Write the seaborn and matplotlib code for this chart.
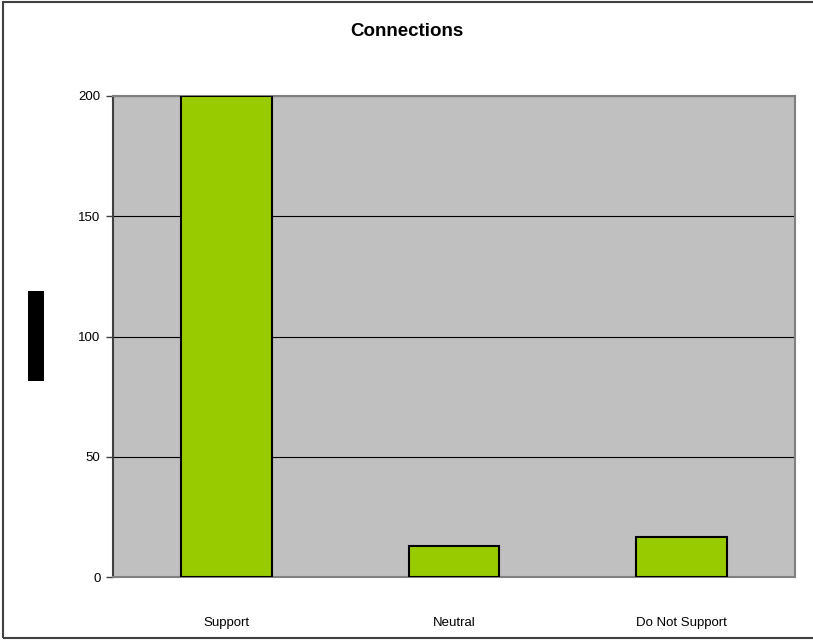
import matplotlib
matplotlib.use("Agg")
import matplotlib.pyplot as plt
import seaborn as sns
import pandas as pd
from matplotlib.patches import Rectangle

categories = ["Support", "Neutral", "Do Not Support"]
counts = [200, 13, 16.5]
y_ticks = [0, 50, 100, 150, 200]

sns.set_theme(style="white")
plt.rcParams["font.family"] = ["Liberation Sans", "DejaVu Sans"]
plt.rcParams["text.color"] = "black"
plt.rcParams["xtick.color"] = "black"
plt.rcParams["ytick.color"] = "black"

df = pd.DataFrame({"category": categories, "count": counts})

fig = plt.figure(figsize=(8.13, 6.4), dpi=100)
fig.patch.set_facecolor("white")
ax = fig.add_axes([113 / 813, 1 - 577 / 640, (795 - 113) / 813, (577 - 96) / 640])
ax.set_facecolor("#C0C0C0")

sns.barplot(data=df, x="category", y="count", ax=ax, color="#99CC00",
            width=0.4, edgecolor="black", linewidth=1.5, saturation=1, zorder=3)

ax.set_ylim(0, 200)
ax.set_yticks(y_ticks)
ax.set_yticklabels([str(t) for t in y_ticks], fontsize=9.5)
ax.yaxis.grid(True, color="black", linewidth=0.8, zorder=1)
ax.set_axisbelow(True)
ax.tick_params(axis="y", which="both", left=True, length=5, width=1,
               color="#404040", labelcolor="black", pad=4)
ax.tick_params(axis="x", length=0, pad=29, labelsize=9.5, labelcolor="black")
ax.set_xlabel("")
ax.set_ylabel("")

for side in ["top", "right", "bottom"]:
    ax.spines[side].set_color("#808080")
    ax.spines[side].set_linewidth(1.5)
ax.spines["left"].set_color("#404040")
ax.spines["left"].set_linewidth(1.5)

fig.text(0.5, 1 - 32 / 640, "Connections", ha="center", va="center",
         fontsize=13.5, fontweight="bold", color="black")

# solid block where the vertical axis caption sits
fig.patches.append(Rectangle((28 / 813, 1 - 381 / 640), 16 / 813, 90 / 640,
                             transform=fig.transFigure, facecolor="black",
                             edgecolor="none"))

# chart frame
fig.patches.append(Rectangle((3 / 813, 2 / 640), 812 / 813, 636 / 640,
                             transform=fig.transFigure, facecolor="none",
                             edgecolor="#404040", linewidth=1.5))

fig.savefig("out.png", dpi=100, facecolor="white")
